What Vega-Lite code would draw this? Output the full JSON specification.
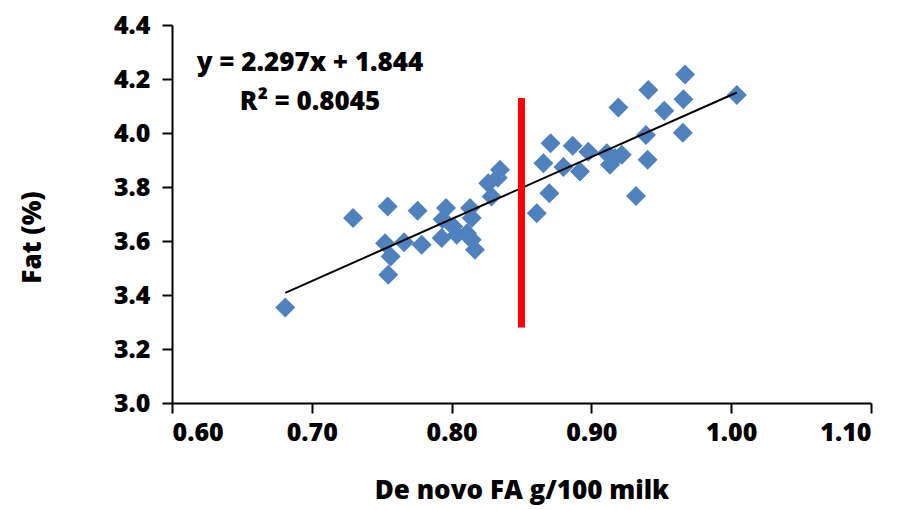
{
  "$schema": "https://vega.github.io/schema/vega-lite/v6.json",
  "width": 699,
  "height": 378,
  "autosize": {"type": "none"},
  "padding": {"left": 172, "top": 25, "right": 30, "bottom": 107},
  "background": "white",
  "config": {
    "view": {"stroke": null},
    "font": "Open Sans",
    "axis": {
      "grid": false,
      "domainColor": "black",
      "domainWidth": 2,
      "tickColor": "black",
      "tickWidth": 2,
      "tickSize": 10,
      "labelColor": "black",
      "labelFont": "Open Sans",
      "labelFontSize": 25,
      "labelFontWeight": 800,
      "titleColor": "black",
      "titleFont": "Open Sans",
      "titleFontSize": 26,
      "titleFontWeight": 800
    }
  },
  "datasets": {
    "milk": [
      {"denovo": 0.681, "fat": 3.354},
      {"denovo": 0.7295, "fat": 3.685},
      {"denovo": 0.7543, "fat": 3.728},
      {"denovo": 0.7524, "fat": 3.592},
      {"denovo": 0.7564, "fat": 3.543},
      {"denovo": 0.7547, "fat": 3.475},
      {"denovo": 0.766, "fat": 3.595},
      {"denovo": 0.7757, "fat": 3.712},
      {"denovo": 0.7786, "fat": 3.586},
      {"denovo": 0.7929, "fat": 3.611},
      {"denovo": 0.7936, "fat": 3.681},
      {"denovo": 0.796, "fat": 3.722},
      {"denovo": 0.8012, "fat": 3.654},
      {"denovo": 0.8037, "fat": 3.623},
      {"denovo": 0.811, "fat": 3.629},
      {"denovo": 0.8144, "fat": 3.605},
      {"denovo": 0.8167, "fat": 3.568},
      {"denovo": 0.8132, "fat": 3.722},
      {"denovo": 0.8144, "fat": 3.685},
      {"denovo": 0.8262, "fat": 3.814},
      {"denovo": 0.8286, "fat": 3.765},
      {"denovo": 0.833, "fat": 3.834},
      {"denovo": 0.8346, "fat": 3.864},
      {"denovo": 0.8609, "fat": 3.703},
      {"denovo": 0.8657, "fat": 3.888},
      {"denovo": 0.8699, "fat": 3.777},
      {"denovo": 0.8708, "fat": 3.962},
      {"denovo": 0.88, "fat": 3.874},
      {"denovo": 0.8866, "fat": 3.953},
      {"denovo": 0.8918, "fat": 3.857},
      {"denovo": 0.8978, "fat": 3.931},
      {"denovo": 0.911, "fat": 3.925},
      {"denovo": 0.9133, "fat": 3.882},
      {"denovo": 0.9169, "fat": 3.907},
      {"denovo": 0.9217, "fat": 3.919},
      {"denovo": 0.9193, "fat": 4.094},
      {"denovo": 0.9319, "fat": 3.767},
      {"denovo": 0.939, "fat": 3.993},
      {"denovo": 0.9407, "fat": 4.159},
      {"denovo": 0.9402, "fat": 3.901},
      {"denovo": 0.9521, "fat": 4.082},
      {"denovo": 0.967, "fat": 4.217},
      {"denovo": 0.9658, "fat": 4.125},
      {"denovo": 0.9654, "fat": 4.001},
      {"denovo": 1.004, "fat": 4.141}
    ],
    "trend": [
      {"denovo": 0.681, "fat": 3.408},
      {"denovo": 1.004, "fat": 4.150}
    ],
    "cutoff": [
      {"denovo": 0.85, "low": 3.28, "high": 4.13}
    ],
    "equation": [
      {"denovo": 0.6987, "fat": 4.259, "label": "y = 2.297x + 1.844"},
      {"denovo": 0.6987, "fat": 4.115, "label": "R² = 0.8045"}
    ]
  },
  "layer": [
    {
      "data": {"name": "milk"},
      "mark": {"type": "point", "shape": "diamond", "filled": true, "size": 400, "color": "#4F81BD", "opacity": 1},
      "encoding": {
        "x": {
          "field": "denovo",
          "type": "quantitative",
          "scale": {"domain": [0.6, 1.1], "nice": false, "zero": false},
          "axis": {
            "values": [0.6, 0.7, 0.8, 0.9, 1.0, 1.1],
            "format": ".2f",
            "labelPadding": 7,
            "title": "De novo FA g/100 milk",
            "titlePadding": 32
          }
        },
        "y": {
          "field": "fat",
          "type": "quantitative",
          "scale": {"domain": [3.0, 4.4], "nice": false, "zero": false},
          "axis": {
            "values": [3.0, 3.2, 3.4, 3.6, 3.8, 4.0, 4.2, 4.4],
            "format": ".1f",
            "labelPadding": 12,
            "title": "Fat (%)",
            "titlePadding": 68,
            "titleY": 212
          }
        }
      }
    },
    {
      "data": {"name": "trend"},
      "mark": {"type": "line", "color": "black", "strokeWidth": 2},
      "encoding": {
        "x": {"field": "denovo", "type": "quantitative"},
        "y": {"field": "fat", "type": "quantitative"}
      }
    },
    {
      "data": {"name": "cutoff"},
      "mark": {"type": "rule", "color": "#FF0000", "strokeWidth": 7},
      "encoding": {
        "x": {"field": "denovo", "type": "quantitative"},
        "y": {"field": "low", "type": "quantitative"},
        "y2": {"field": "high"}
      }
    },
    {
      "data": {"name": "equation"},
      "mark": {"type": "text", "font": "Open Sans", "fontSize": 26, "fontWeight": 800, "color": "black", "align": "center", "baseline": "middle"},
      "encoding": {
        "x": {"field": "denovo", "type": "quantitative"},
        "y": {"field": "fat", "type": "quantitative"},
        "text": {"field": "label"}
      }
    }
  ]
}
